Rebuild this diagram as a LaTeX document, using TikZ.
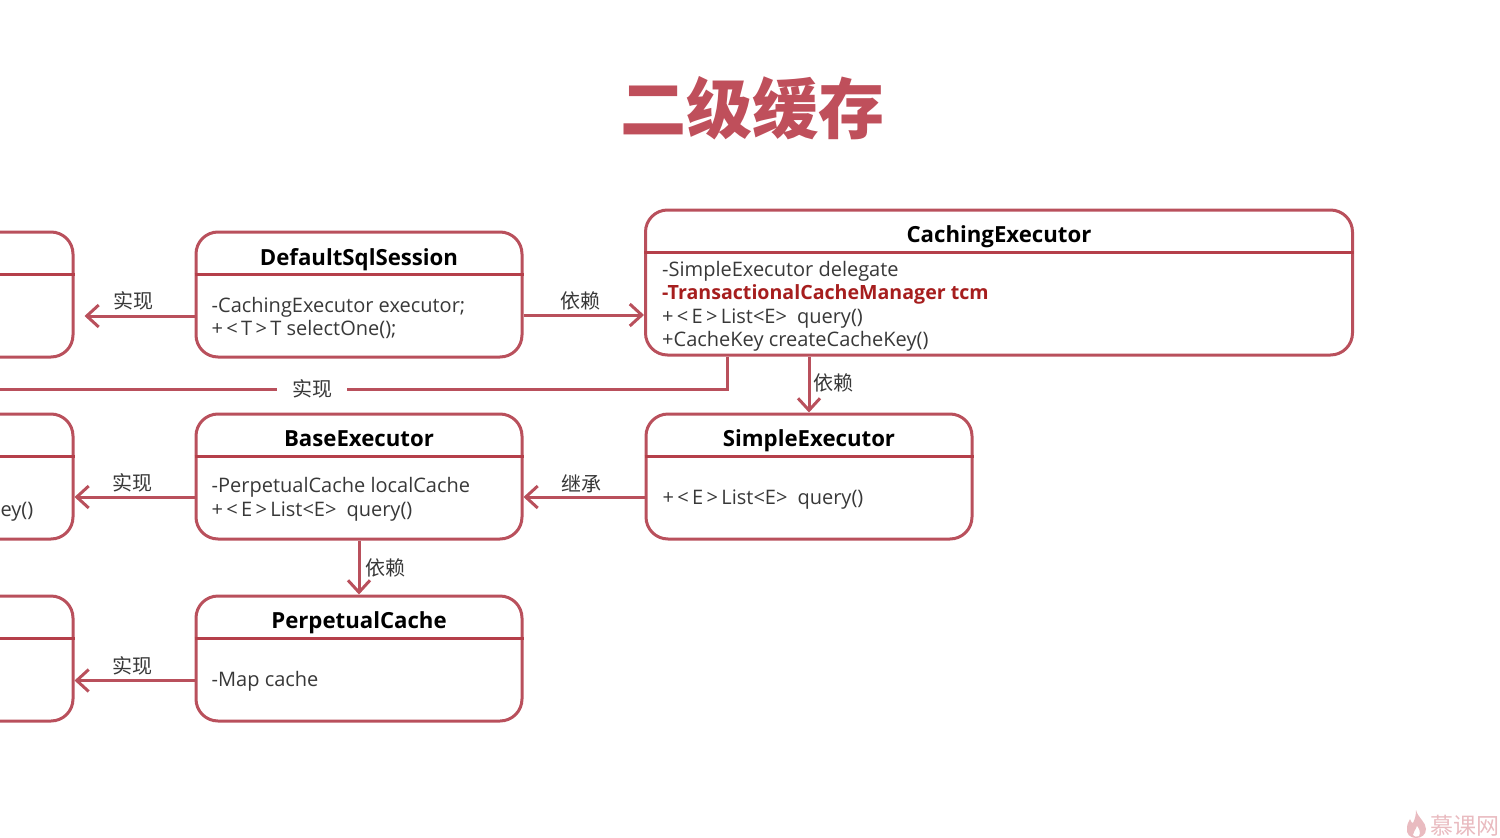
\documentclass[tikz,border=0pt]{standalone}
\usepackage{fontspec}
\setmainfont{Open Sans}
\newfontfamily\cjk{Noto Sans CJK SC}
\usepackage{xcolor}
\usetikzlibrary{arrows.meta, positioning, calc}
\definecolor{umlred}{HTML}{B9505C}
\definecolor{rulered}{HTML}{B53F4A}
\definecolor{headred}{HTML}{BF4F5B}
\definecolor{memberred}{HTML}{A61E1E}
\definecolor{membergray}{HTML}{383838}
\definecolor{markpink}{HTML}{E9BBC0}

\begin{document}
\begin{tikzpicture}[
    x=1pt, y=-1pt,
    umlbox/.style={draw=umlred, line width=3pt, rounded corners=22pt, minimum width=326pt, minimum height=125pt},
    headline/.style={draw=rulered, line width=3pt},
    classname/.style={font=\fontsize{22.2}{24}\selectfont\bfseries, text=black, inner sep=0pt, text height=16pt, text depth=5pt},
    members/.style={font=\fontsize{20}{23.5}\selectfont, text=membergray, align=left, anchor=west, inner sep=0pt},
    link/.style={draw=umlred, line width=3pt, -{Straight Barb[length=12pt, width=22pt, line width=3pt]}},
    relname/.style={font=\fontsize{20}{22}\cjk\selectfont, text=membergray, inner sep=0pt}
]
    \path[use as bounding box, clip] (0,0) rectangle (1500,838);

    \node[font=\fontsize{66}{70}\cjk\selectfont\bfseries, text=headred] (heading) at (752,108.5) {二级缓存};

    % rows, the left column runs off the page
    \node[umlbox] (ds) at (359,294.5) {};
    \node[umlbox, left=120pt of ds] (sqlsession) {};
    \node[umlbox, below=54pt of ds] (base) {};
    \node[umlbox, left=120pt of base] (executor) {};
    \node[umlbox, below=54pt of base] (perp) {};
    \node[umlbox, left=120pt of perp] (cache) {};
    \node[umlbox, right=121pt of base] (simple) {};
    \node[umlbox, minimum width=707pt, minimum height=145pt] (caching) at (999,282.5) {};

    \foreach \b in {sqlsession, ds, caching, executor, base, simple, cache, perp}
        \draw[headline] ($(\b.north west)+(0,44)$) -- ($(\b.north east)+(0,44)$);

    \node[classname] (dsname) at ($(ds.north)+(0,29)$) {DefaultSqlSession};
    \node[classname] (cachingname) at ($(caching.north)+(0,28)$) {CachingExecutor};
    \node[classname] (basename) at ($(base.north)+(0,28)$) {BaseExecutor};
    \node[classname] (simplename) at ($(simple.north)+(0,28)$) {SimpleExecutor};
    \node[classname] (perpname) at ($(perp.north)+(0,28)$) {PerpetualCache};

    \node[members] (dsbody) at ($(ds.west)+(17,23.5)$) {-CachingExecutor executor;\\+\,<\,T\,>\,T selectOne();};
    \node[members] (cachingbody) at ($(caching.west)+(18,24)$) {-SimpleExecutor delegate\\
        \textcolor{memberred}{\fontsize{19.6}{23.5}\selectfont\textbf{-TransactionalCacheManager tcm}}\\
        +\,<\,E\,>\,List<E>\,\,\,query()\\+CacheKey createCacheKey()};
    \node[members] (basebody) at ($(base.west)+(17,23)$) {-PerpetualCache localCache\\+\,<\,E\,>\,List<E>\,\,\,query()};
    \node[members] (simplebody) at ($(simple.west)+(18,23)$) {+\,<\,E\,>\,List<E>\,\,\,query()};
    \node[members] (perpbody) at ($(perp.west)+(17,23)$) {-Map cache};
    \node[members, anchor=east] (execbody) at ($(executor.east)+(-41,35.5)$) {ey()};

    \draw[link, shorten >=10pt] ($(ds.west)+(0,21.5)$) -- node[relname, above=4pt, xshift=-1pt] {实现} ($(sqlsession.east)+(0,21.5)$);
    \draw[link] ($(ds.east)+(0,20.5)$) -- node[relname, above=3pt, xshift=-3pt] {依赖} ($(caching.west |- ds.east)+(0,20.5)$);
    \draw[link] ($(base.west)+(0,20.5)$) -- node[relname, above=3pt, xshift=-2pt] {实现} ($(executor.east)+(0,20.5)$);
    \draw[link] ($(simple.west)+(0,20.5)$) -- node[relname, above=3pt, xshift=-3pt] {继承} ($(base.east)+(0,20.5)$);
    \draw[link] ($(perp.west)+(0,22)$) -- node[relname, above=4pt, xshift=-2pt] {实现} ($(cache.east)+(0,22)$);
    \draw[link] (simple.north |- caching.south) -- node[relname, right=3pt, yshift=2pt] {依赖} (simple.north);
    \draw[link] (base.south) -- node[relname, right=5pt] {依赖} (perp.north);

    \coordinate (offpage) at (-10,389);
    \draw[headline, draw=umlred] ($(caching.south west)+(83,0)$) |- node[relname, pos=0.7815, fill=white, inner xsep=15pt, inner ysep=2pt] (impl) {实现} (offpage);

    % watermark
    \fill[markpink] (1416,810) .. controls (1418,818) and (1426,822) .. (1426,829)
        .. controls (1426,835) and (1421,838) .. (1416,838)
        .. controls (1410,838) and (1406,834) .. (1407,828)
        .. controls (1407,824) and (1409,821) .. (1410,819)
        .. controls (1411,822) and (1412,823) .. (1413,823)
        .. controls (1415,819) and (1416,815) .. (1416,810) -- cycle;
    \fill[white] (1417,826) .. controls (1419,829) and (1421,832) .. (1419,836)
        .. controls (1417,837) and (1414,837) .. (1413,835)
        .. controls (1413,832) and (1416,830) .. (1417,826) -- cycle;
    \node[font=\fontsize{23}{25}\cjk\selectfont, text=markpink, anchor=west, inner sep=0pt] (mark) at (1430,826) {慕课网};
\end{tikzpicture}
\end{document}
